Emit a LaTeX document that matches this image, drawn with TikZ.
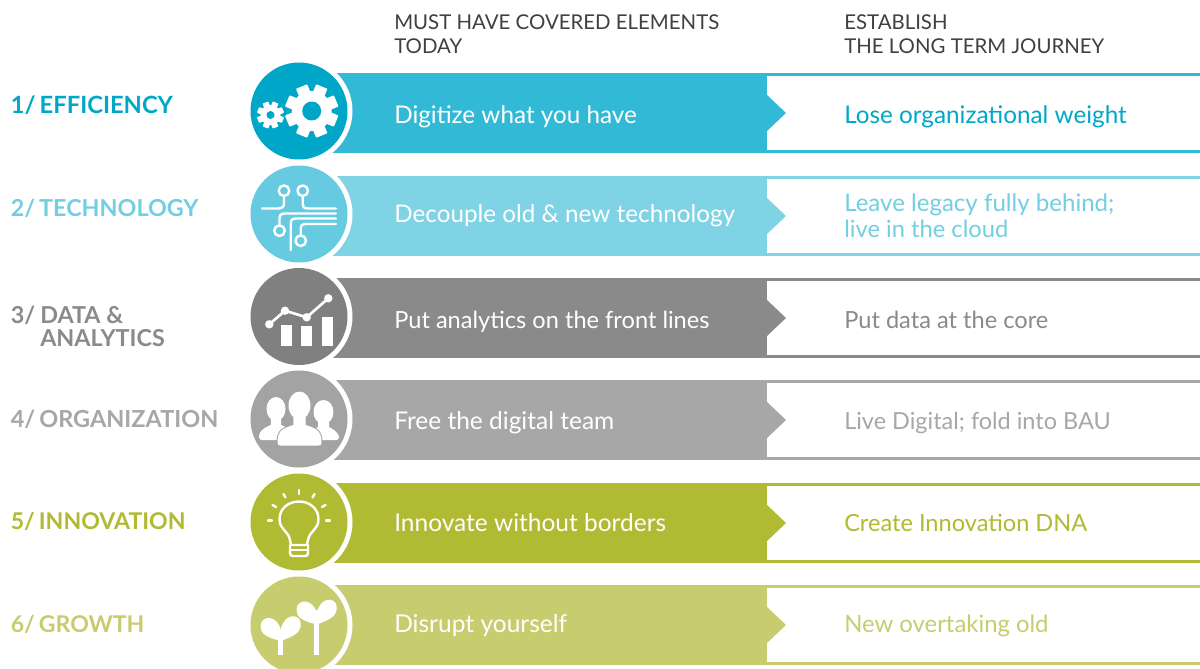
\documentclass[tikz,border=0pt]{standalone}
\usepackage{fontspec}
\setmainfont{Lato}
\definecolor{b1}{HTML}{31B9D6}\definecolor{c1}{HTML}{00A6C8}\definecolor{t1}{HTML}{00A7C7}
\definecolor{b2}{HTML}{80D3E5}\definecolor{c2}{HTML}{66CBE0}\definecolor{t2}{HTML}{72CFE2}
\definecolor{b3}{HTML}{8A8A8A}\definecolor{c3}{HTML}{808080}\definecolor{t3}{HTML}{8A8A8A}
\definecolor{b4}{HTML}{A7A7A7}\definecolor{c4}{HTML}{A3A3A3}\definecolor{t4}{HTML}{A7A7A7}
\definecolor{b5}{HTML}{B0BA32}\definecolor{c5}{HTML}{B0BA32}\definecolor{t5}{HTML}{B0BA32}
\definecolor{b6}{HTML}{C7CD6F}\definecolor{c6}{HTML}{C7CD6F}\definecolor{t6}{HTML}{C7CD6F}
\definecolor{hd}{HTML}{404040}
\newcommand{\slashtight}{/\hspace{-1.2pt}}
\newcommand{\fs}[1]{\fontsize{#1}{#1}\selectfont}
\tikzset{
 x=0.75pt,y=-0.75pt,
 lab/.style={anchor=base west,inner sep=0pt,font=\fontsize{17.5}{17.5}\selectfont\bfseries},
 hdr/.style={anchor=base west,inner sep=0pt,font=\fontsize{15.3}{15.3}\selectfont,text=hd},
 bartxt/.style={anchor=base west,inner sep=0pt,font=\fontsize{18.2}{18.2}\selectfont,text=white},
 endtxt/.style={anchor=base west,inner sep=0pt,font=\fontsize{18.2}{18.2}\selectfont},
 iconline/.style={draw=white,line width=1.8pt,fill=none,line cap=round,line join=round},
}
% #1 index, #2 top of the bar, #3 circle centre y
\newcommand{\rowband}[3]{%
 \fill[b#1] (330,#2) rectangle (767,#2+80);
 \fill[b#1] (767,#2+22) -- (786,#2+40) -- (767,#2+58) -- cycle;
 \fill[b#1] (767,#2) rectangle (1200,#2+3);
 \fill[b#1] (767,#2+77) rectangle (1200,#2+80);
 \fill[white] (299,#3) circle (53.5);
 \fill[c#1] (299,#3) circle (48.5);
}
\newcommand{\gearicon}[6]{% x y body outer hole colour
 \foreach \a in {0,45,...,315}{
  \fill[white,rotate around={\a+22.5:(#1,#2)},rounded corners=0.6pt]
   (#1-#4*0.23,#2) rectangle (#1+#4*0.23,#2-#4);
 }
 \fill[white] (#1,#2) circle (#3);
 \fill[#6] (#1,#2) circle (#5);
}
% cx, head cy, head rx, head ry, half width, shoulder y, base y
\newcommand{\person}[7]{%
 \def\personshape{
  (#1,#2) ellipse [x radius=#3,y radius=#4]
  (#1-#5,#7-3) .. controls (#1-#5,#6+8) and (#1-#5+2,#6+4) .. (#1-#3*0.55,#6)
  -- (#1-#3*0.55,#2+#4*0.5) -- (#1+#3*0.55,#2+#4*0.5) -- (#1+#3*0.55,#6)
  .. controls (#1+#5-2,#6+4) and (#1+#5,#6+8) .. (#1+#5,#7-3)
  .. controls (#1+#5,#7-1) and (#1+#5-1,#7) .. (#1+#5-3,#7)
  -- (#1-#5+3,#7) .. controls (#1-#5+1,#7) and (#1-#5,#7-1) .. (#1-#5,#7-3) -- cycle
 }
 \draw[c4,line width=1.5pt] \personshape;
 \fill[white] \personshape;
}
\newcommand{\leafpair}[2]{% x of stem, y of notch
 \fill[white] (#1,#2+11) .. controls (#1-10,#2+8) and (#1-21,#2+6) .. (#1-20,#2-5)
  .. controls (#1-19,#2-15) and (#1-3,#2-15) .. (#1,#2)
  .. controls (#1+3,#2-17) and (#1+19,#2-17) .. (#1+20,#2-7)
  .. controls (#1+21,#2+4) and (#1+10,#2+7) .. (#1,#2+11) -- cycle;
}
\begin{document}
\begin{tikzpicture}
\useasboundingbox (0,0) rectangle (1200,668);
\fill[white] (0,0) rectangle (1200,668);

\node[hdr] (h1a) at (394,29) {MUST HAVE COVERED ELEMENTS};
\node[hdr] (h1b) at (394,53) {TODAY};
\node[hdr] (h2a) at (844,29) {ESTABLISH};
\node[hdr] (h2b) at (844,53) {THE LONG TERM JOURNEY};

\rowband{1}{73}{111}
\rowband{2}{176}{214}
\rowband{3}{278}{316.5}
\rowband{4}{380}{419}
\rowband{5}{483}{522}
\rowband{6}{585}{625}

% left labels
\node[lab,text=t1] (l1) at (10.5,113) {\fs{17.8}1\slashtight{} EFFICIENCY};
\node[lab,text=t2] (l2) at (10.5,216) {2\slashtight{} TECHNOLOGY};
\node[lab,text=t3] (l3a) at (10.5,323) {3/};
\node[lab,text=t3] (l3b) at (40,323) {DATA \&};
\node[lab,text=t3] (l3c) at (40,346) {ANALYTICS};
\node[lab,text=t4] (l4) at (10.5,427) {\fs{17.6}4\slashtight{} ORGANIZATION};
\node[lab,text=t5] (l5) at (10.5,529) {\fs{17.3}5\slashtight{} INNOVATION};
\node[lab,text=t6] (l6) at (10.5,632) {\fs{17.3}6\slashtight{} GROWTH};

% bar texts
\node[bartxt] (m1) at (394,123) {Digitize what you have};
\node[bartxt] (m2) at (394,222) {Decouple old \& new technology};
\node[bartxt] (m3) at (394,328) {\fs{17.7}Put analytics on the front lines};
\node[bartxt] (m4) at (394,429) {\fs{18.35}Free the digital team};
\node[bartxt] (m5) at (394,531) {\fs{18.35}Innovate without borders};
\node[bartxt] (m6) at (394,632) {\fs{18.4}Disrupt yourself};

% right texts
\node[endtxt,text=t1] (r1) at (844,123) {Lose organizational weight};
\node[endtxt,text=t2] (r2a) at (844,211.5) {\fs{18.05}Leave legacy fully behind;};
\node[endtxt,text=t2] (r2b) at (844,237.5) {\fs{17.8}live in the cloud};
\node[endtxt,text=t3] (r3) at (844,328) {\fs{17.7}Put data at the core};
\node[endtxt,text=t4] (r4) at (844,429) {\fs{17.6}Live Digital; fold into BAU};
\node[endtxt,text=t5] (r5) at (844,531) {\fs{17.7}Create Innovation DNA};
\node[endtxt,text=t6] (r6) at (844,632) {\fs{17.9}New overtaking old};

% gears
\gearicon{311.7}{111}{20}{26.5}{9.5}{c1}
\gearicon{270.5}{115}{10}{13.5}{4}{c1}

% circuit
\begin{scope}[iconline]
 \draw (284,196) -- (284,203) .. controls (284,207) and (282,208.5) .. (279,208.5) -- (262,208.5);
 \draw (302.7,196) -- (302.7,203) .. controls (302.7,207) and (304,208.5) .. (308,208.5) -- (336,208.5);
 \draw (336,213.5) -- (284,213.5) .. controls (281,213.5) and (279.5,215) .. (279.5,218) -- (279.5,225.5);
 \draw (336,218.5) -- (295,218.5) .. controls (292,218.5) and (290.7,220) .. (290.7,223) -- (290.7,250);
 \draw (336,224) -- (305,224) .. controls (302,224) and (300.7,225.5) .. (300.7,228) -- (300.7,235.5);
 \draw (284,190.7) circle (5.3);
 \draw (302.7,190.7) circle (5.3);
 \draw (279.5,230.7) circle (5.3);
 \draw (300.7,240.7) circle (5.3);
\end{scope}

% chart
\draw[white,line width=2pt] (269.3,324.3) -- (285,310.7) -- (306.7,317.3) -- (328.3,298.3);
\foreach \p in {(269.3,324.3),(285,310.7),(306.7,317.3),(328.3,298.3)} \fill[white] \p circle (4.2);
\fill[white] (281,325) rectangle (292.3,346);
\fill[white] (301,325.7) rectangle (312.3,346);
\fill[white] (322.3,316.7) rectangle (333.3,346);

% people
\person{276}{409}{9.5}{12}{17}{425}{440}
\person{323.5}{412}{10}{12}{15.5}{427}{440}
\person{299.5}{405.5}{11}{14}{22}{425}{445.5}

% bulb
\begin{scope}[iconline]
 \draw (291,545) -- (290,540) .. controls (288,530) and (279.5,530) .. (279.5,519)
  .. controls (279.5,509) and (288,501.5) .. (299,501.5)
  .. controls (310,501.5) and (318.5,509) .. (318.5,519)
  .. controls (318.5,530) and (310,530) .. (308,540) -- (307,545) -- cycle;
 \draw (290,545) -- (290,553) .. controls (290,555) and (291,556) .. (293,556) -- (305,556)
  .. controls (307,556) and (308,555) .. (308,553) -- (308,545);
 \draw[line width=1.2pt] (290,550) -- (308,550);
 \draw (299,490) -- (299,494);
 \draw (283.5,494) -- (285.5,497.5);
 \draw (314.5,494) -- (312.5,497.5);
 \draw (272.5,505) -- (276,507);
 \draw (325.5,505) -- (322,507);
 \draw (268,520.5) -- (272,520.5);
 \draw (326,520.5) -- (330,520.5);
\end{scope}

% sprouts
\fill[white] (278.4,635) rectangle (283,655);
\fill[white] (314.4,610) rectangle (319,655);
\leafpair{280.7}{630}
\leafpair{316.7}{613.5}
\end{tikzpicture}
\end{document}
